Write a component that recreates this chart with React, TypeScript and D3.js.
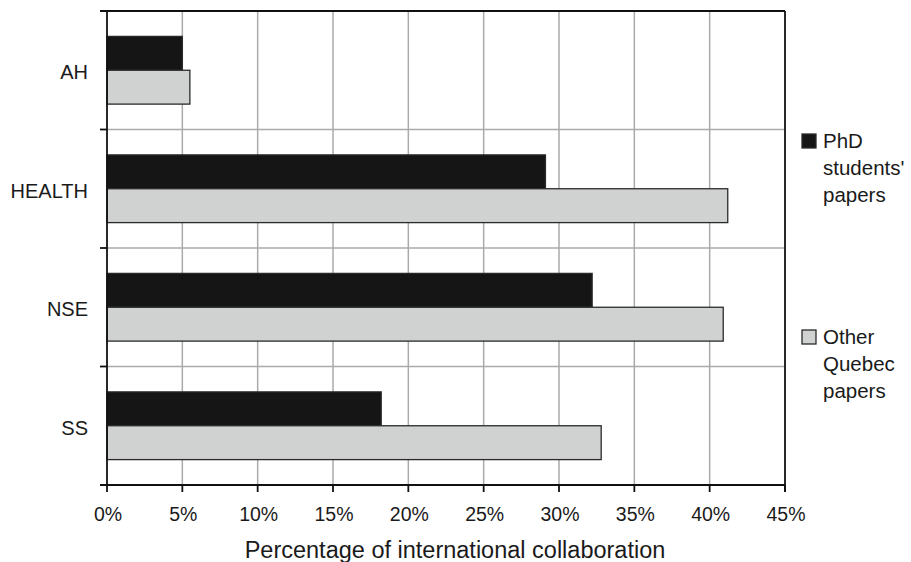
import React from 'react';
import * as d3 from 'd3';

// data
const CATEGORIES = ['AH', 'HEALTH', 'NSE', 'SS'];
const SERIES = ['phd', 'other'];
const PHD_VALUES = [5.0, 29.1, 32.2, 18.2];
const OTHER_VALUES = [5.5, 41.2, 40.9, 32.8];
const X_TICKS = [0, 5, 10, 15, 20, 25, 30, 35, 40, 45];
const LEGEND_LINES = [
  ['PhD', "students'", 'papers'],
  ['Other', 'Quebec', 'papers'],
];

const FILLS: Record<string, string> = { phd: '#151515', other: '#d0d2d1' };
const FONT = '"Liberation Sans", Arial, Helvetica, sans-serif';

const W = 911;
const H = 562;
const margin = { top: 11, right: 126, bottom: 77, left: 107 };

const App: React.FC = () => {
  const x = d3.scaleLinear().domain([0, 45]).range([margin.left, W - margin.right]);
  const y = d3.scaleBand().domain(CATEGORIES).range([margin.top, H - margin.bottom]);
  const sub = d3.scaleBand().domain(SERIES).range([0, y.bandwidth()]).paddingOuter(0.75);

  const values: Record<string, number[]> = { phd: PHD_VALUES, other: OTHER_VALUES };
  const [x0, x1] = x.range();
  const [y0, y1] = y.range();
  const boundaries = CATEGORIES.map(c => y(c)!).concat([y1]);

  return (
    <svg width={W} height={H} style={{ position: 'absolute', left: 0, top: 0, background: '#fff' }}
      fontFamily={FONT}>
      {/* vertical grid */}
      {X_TICKS.slice(1, -1).map(t => (
        <line key={'vg' + t} x1={x(t)} x2={x(t)} y1={y0} y2={y1} stroke="#aaaaaa" strokeWidth={1.5} />
      ))}
      {/* horizontal grid at category boundaries */}
      {boundaries.slice(1, -1).map((b, i) => (
        <line key={'hg' + i} x1={x0} x2={x1} y1={b} y2={b} stroke="#aaaaaa" strokeWidth={1.5} />
      ))}

      {/* bars */}
      {CATEGORIES.map((c, i) => (
        <g key={c} transform={`translate(0,${y(c)})`}>
          {SERIES.map(s => (
            <rect key={s} x={x(0)} y={sub(s)} width={x(values[s][i]) - x(0)} height={sub.bandwidth()}
              fill={FILLS[s]} stroke="#2a2a2a" strokeWidth={1.3} />
          ))}
        </g>
      ))}

      {/* frame */}
      <line x1={x0 - 7} x2={x1} y1={y0} y2={y0} stroke="#111" strokeWidth={1.8} />
      <line x1={x0 - 7} x2={x1} y1={y1} y2={y1} stroke="#111" strokeWidth={1.8} />
      <line x1={x0} x2={x0} y1={y0} y2={y1} stroke="#111" strokeWidth={1.8} />
      <line x1={x1} x2={x1} y1={y0} y2={y1 + 7} stroke="#111" strokeWidth={1.8} />

      {/* left ticks */}
      {boundaries.slice(1, -1).map((b, i) => (
        <line key={'lt' + i} x1={x0 - 7} x2={x0} y1={b} y2={b} stroke="#111" strokeWidth={1.8} />
      ))}
      {/* bottom ticks + labels */}
      {X_TICKS.map(t => (
        <g key={'bt' + t}>
          <line x1={x(t)} x2={x(t)} y1={y1} y2={y1 + 7} stroke="#111" strokeWidth={1.8} />
          <text x={x(t) + 1} y={520.5} textAnchor="middle" fontSize={19.5} fill="#1a1a1a">{t}%</text>
        </g>
      ))}

      {/* category labels */}
      {CATEGORIES.map(c => (
        <text key={'cl' + c} x={88} y={y(c)! + y.bandwidth() / 2 + 9}
          textAnchor="end" fontSize={20} fill="#1a1a1a">{c}</text>
      ))}

      {/* axis title */}
      <text x={455} y={558} textAnchor="middle" fontSize={23.5}
        fill="#1a1a1a">Percentage of international collaboration</text>

      {/* legend */}
      {SERIES.map((s, i) => {
        const base = i === 0 ? 148 : 344;
        return (
          <g key={'lg' + s}>
            <rect x={802} y={base - 14} width={14} height={14} fill={FILLS[s]} stroke="#2a2a2a" strokeWidth={1.3} />
            {LEGEND_LINES[i].map((ln, j) => (
              <text key={j} x={823} y={base + j * 27} fontSize={20.5} fill="#1a1a1a">{ln}</text>
            ))}
          </g>
        );
      })}
    </svg>
  );
};

export default App;
